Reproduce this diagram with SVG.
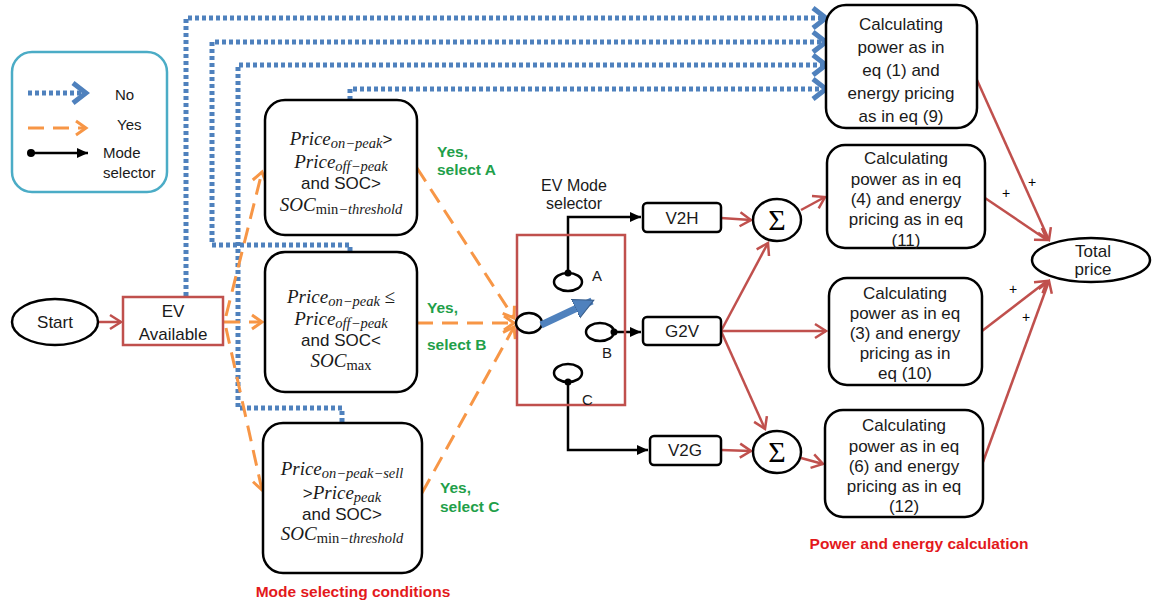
<svg xmlns="http://www.w3.org/2000/svg" width="1153" height="603" viewBox="0 0 1153 603">
<style>
.t{font-family:"Liberation Sans",Arial,sans-serif;font-size:17px;fill:#1a1a1a}
.c{text-anchor:middle}
.m{font-family:"Liberation Serif","DejaVu Serif",serif;font-style:italic;font-size:19px}
.s{font-size:14.5px}
.up{font-style:normal}
.g{font-family:"Liberation Sans",Arial,sans-serif;font-weight:bold;font-size:15.5px;fill:#1fa04a}
.r{font-family:"Liberation Sans",Arial,sans-serif;font-weight:bold;font-size:15.5px;fill:#e3191c;text-anchor:middle}
.box{fill:#fff;stroke:#000;stroke-width:2.5}
.rbox{fill:#fff;stroke:#c0504d;stroke-width:2.5}
.blue{fill:none;stroke:#4f81bd;stroke-width:5;stroke-dasharray:4 3;marker-end:url(#ab)}
.or{fill:none;stroke:#f79646;stroke-width:3;stroke-dasharray:16 9;marker-end:url(#ao)}
.red{fill:none;stroke:#c0504d;stroke-width:2.5;marker-end:url(#ar)}
.blk{fill:none;stroke:#000;stroke-width:2.5;marker-end:url(#ak)}
.plus{font-family:"Liberation Sans",Arial,sans-serif;font-size:14px;fill:#000;text-anchor:middle}
</style>
<defs>
<marker id="ab" markerUnits="userSpaceOnUse" markerWidth="22" markerHeight="26" viewBox="0 0 22 26" refX="18" refY="13" orient="auto"><path d="M5,3 L18,13 L5,23" fill="none" stroke="#4f81bd" stroke-width="5"/></marker>
<marker id="ao" markerUnits="userSpaceOnUse" markerWidth="16" markerHeight="18" viewBox="0 0 16 18" refX="13" refY="9" orient="auto"><path d="M3,2 L13,9 L3,16" fill="none" stroke="#f79646" stroke-width="3"/></marker>
<marker id="ar" markerUnits="userSpaceOnUse" markerWidth="16" markerHeight="18" viewBox="0 0 16 18" refX="13" refY="9" orient="auto"><path d="M2,2 L13,9 L2,16" fill="none" stroke="#c0504d" stroke-width="2.5"/></marker>
<marker id="ak" markerUnits="userSpaceOnUse" markerWidth="12" markerHeight="12" viewBox="0 0 12 12" refX="11" refY="6" orient="auto"><path d="M0,1 L11,6 L0,11 Z" fill="#000"/></marker>
<marker id="abl" markerUnits="userSpaceOnUse" markerWidth="22" markerHeight="22" viewBox="0 0 22 22" refX="18" refY="11" orient="auto"><path d="M0,1 L20,11 L0,21 Z" fill="#4f81bd" stroke="#385d8a" stroke-width="1"/></marker>
</defs>

<g id="legend">
<rect x="12" y="52" width="155" height="140" rx="20" fill="#fff" stroke="#4bacc6" stroke-width="2.5"/>
<path class="blue" d="M28,93 H86"/>
<text class="t" x="115" y="100" style="font-size:15px">No</text>
<path class="or" d="M28,128 H86"/>
<text class="t" x="117" y="130" style="font-size:15px">Yes</text>
<circle cx="31" cy="153" r="4" fill="#000"/>
<path class="blk" d="M31,153 H88"/>
<text class="t" x="103" y="158" style="font-size:15px">Mode</text>
<text class="t" x="103" y="178" style="font-size:15px">selector</text>
</g>

<g id="connectors">
<path class="blue" d="M186,296 V18 H826"/>
<path class="blue" d="M350,251 V245 H212 V42 H826"/>
<path class="blue" d="M342,422 V408 H238 V65 H826"/>
<path class="blue" d="M350,100 V89 H826"/>
<path class="red" d="M98,322 H121"/>
<path class="or" d="M226,316 L262,172"/>
<path class="or" d="M224,322 H262"/>
<path class="or" d="M226,328 L262,490"/>
<path class="or" d="M417,168 L514,318"/>
<path class="or" d="M422,493 L514,327"/>
<path class="or" d="M417,323 H514"/>
<path class="blk" d="M568,273 V217 H641"/>
<path class="blk" d="M614,332 H641"/>
<path class="blk" d="M568,382 V450 H648"/>
<path class="red" d="M721,218 L751,220"/>
<path class="red" d="M721,450 L751,451"/>
<path class="red" d="M721,331 L768,243"/>
<path class="red" d="M721,331 H826"/>
<path class="red" d="M721,331 L765,429"/>
<path class="red" d="M801,210 L825,197"/>
<path class="red" d="M801,458 L823,464"/>
<path class="red" d="M977,80 L1049,240"/>
<path class="red" d="M985,198 L1047,240"/>
<path class="red" d="M982,331 L1047,281"/>
<path class="red" d="M983,462 L1049,281"/>
</g>

<g id="start">
<ellipse cx="55" cy="322" rx="43" ry="23" class="box"/>
<text class="t c" x="55" y="328">Start</text>
</g>

<g id="ev-available">
<rect x="123" y="297" width="100" height="48" class="rbox"/>
<text class="t c" x="173" y="317">EV</text>
<text class="t c" x="173" y="340">Available</text>
</g>

<g id="cond-a">
<rect x="265" y="100" width="152" height="135" rx="20" class="box"/>
<text class="t c" x="341" y="145"><tspan class="m">Price</tspan><tspan class="m s" dy="3">on−peak</tspan><tspan dy="-3">&gt;</tspan></text>
<text class="t c" x="341" y="168"><tspan class="m">Price</tspan><tspan class="m s" dy="3">off−peak</tspan></text>
<text class="t c" x="341" y="189">and SOC&gt;</text>
<text class="t c" x="341" y="211"><tspan class="m">SOC</tspan><tspan class="m s up" dy="3">min</tspan><tspan class="m s">−threshold</tspan></text>
</g>

<g id="cond-b">
<rect x="265" y="252" width="152" height="140" rx="20" class="box"/>
<text class="t c" x="341" y="303"><tspan class="m">Price</tspan><tspan class="m s" dy="3">on−peak</tspan><tspan class="m up" dy="-3"> ≤</tspan></text>
<text class="t c" x="341" y="325"><tspan class="m">Price</tspan><tspan class="m s" dy="3">off−peak</tspan></text>
<text class="t c" x="341" y="346">and SOC&lt;</text>
<text class="t c" x="341" y="367"><tspan class="m">SOC</tspan><tspan class="m s up" dy="3">max</tspan></text>
</g>

<g id="cond-c">
<rect x="263" y="423" width="159" height="150" rx="20" class="box"/>
<text class="t c" x="342" y="475"><tspan class="m">Price</tspan><tspan class="m s" dy="3">on−peak−sell</tspan></text>
<text class="t c" x="342" y="499"><tspan>&gt;</tspan><tspan class="m">Price</tspan><tspan class="m s" dy="3">peak</tspan></text>
<text class="t c" x="342" y="520">and SOC&gt;</text>
<text class="t c" x="342" y="540"><tspan class="m">SOC</tspan><tspan class="m s up" dy="3">min</tspan><tspan class="m s">−threshold</tspan></text>
</g>

<g id="labels">
<text class="g" x="437" y="157">Yes,</text>
<text class="g" x="437" y="175">select A</text>
<text class="g" x="427" y="313">Yes,</text>
<text class="g" x="427" y="350">select B</text>
<text class="g" x="440" y="493">Yes,</text>
<text class="g" x="440" y="512">select C</text>
<text class="r" x="353" y="597">Mode selecting conditions</text>
<text class="r" x="919" y="549">Power and energy calculation</text>
<text class="plus" x="1006" y="198">+</text>
<text class="plus" x="1032" y="187">+</text>
<text class="plus" x="1013" y="294">+</text>
<text class="plus" x="1026" y="322">+</text>
</g>

<g id="mode-selector">
<text class="t c" x="574" y="191" style="font-size:16px">EV Mode</text>
<text class="t c" x="574" y="209" style="font-size:16px">selector</text>
<rect x="517" y="235" width="108" height="170" fill="none" stroke="#c0504d" stroke-width="2.5"/>
<ellipse cx="529" cy="323" rx="13" ry="10" class="box"/>
<line x1="541" y1="325" x2="592" y2="301" stroke="#4f81bd" stroke-width="7" marker-end="url(#abl)"/>
<ellipse cx="568" cy="282" rx="14" ry="9" class="box"/>
<circle cx="568" cy="273" r="3.5" fill="#000"/>
<text class="t" x="592" y="281" style="font-size:15px">A</text>
<ellipse cx="600" cy="332" rx="14" ry="9" class="box"/>
<circle cx="614" cy="332" r="3.5" fill="#000"/>
<text class="t" x="602" y="358" style="font-size:15px">B</text>
<ellipse cx="568" cy="373" rx="14" ry="9" class="box"/>
<circle cx="568" cy="382" r="3.5" fill="#000"/>
<text class="t" x="582" y="405" style="font-size:15px">C</text>
</g>

<g id="v2h">
<rect x="643" y="203" width="78" height="29" rx="4" class="box"/>
<text class="t c" x="682" y="224">V2H</text>
</g>
<g id="g2v">
<rect x="643" y="317" width="78" height="28" rx="4" class="box"/>
<text class="t c" x="682" y="337">G2V</text>
</g>
<g id="v2g">
<rect x="650" y="436" width="71" height="29" rx="4" class="box"/>
<text class="t c" x="685" y="456">V2G</text>
</g>

<g id="sum-1">
<ellipse cx="777" cy="220" rx="24" ry="21" class="box"/>
<text x="777" y="230" text-anchor="middle" font-family="Liberation Serif,serif" font-size="30">Σ</text>
</g>
<g id="sum-2">
<ellipse cx="777" cy="452" rx="24" ry="21" class="box"/>
<text x="777" y="462" text-anchor="middle" font-family="Liberation Serif,serif" font-size="30">Σ</text>
</g>

<g id="calc-1">
<rect x="826" y="5" width="151" height="123" rx="20" class="box"/>
<text class="t c" x="901" y="30">Calculating</text>
<text class="t c" x="901" y="53">power as in</text>
<text class="t c" x="901" y="76">eq (1) and</text>
<text class="t c" x="901" y="99">energy pricing</text>
<text class="t c" x="901" y="122">as in eq (9)</text>
</g>
<g id="calc-2">
<rect x="827" y="145" width="158" height="103" rx="18" class="box"/>
<text class="t c" x="906" y="164">Calculating</text>
<text class="t c" x="906" y="185">power as in eq</text>
<text class="t c" x="906" y="205">(4) and energy</text>
<text class="t c" x="906" y="225">pricing as in eq</text>
<text class="t c" x="906" y="246">(11)</text>
</g>
<g id="calc-3">
<rect x="829" y="278" width="153" height="107" rx="18" class="box"/>
<text class="t c" x="905" y="299">Calculating</text>
<text class="t c" x="905" y="319">power as in eq</text>
<text class="t c" x="905" y="339">(3) and energy</text>
<text class="t c" x="905" y="359">pricing as in</text>
<text class="t c" x="905" y="379">eq (10)</text>
</g>
<g id="calc-4">
<rect x="825" y="410" width="158" height="107" rx="18" class="box"/>
<text class="t c" x="904" y="431">Calculating</text>
<text class="t c" x="904" y="452">power as in eq</text>
<text class="t c" x="904" y="472">(6) and energy</text>
<text class="t c" x="904" y="492">pricing as in eq</text>
<text class="t c" x="904" y="512">(12)</text>
</g>

<g id="total-price">
<ellipse cx="1091" cy="260" rx="59" ry="22" class="box"/>
<text class="t c" x="1093" y="257">Total</text>
<text class="t c" x="1093" y="275">price</text>
</g>
</svg>
